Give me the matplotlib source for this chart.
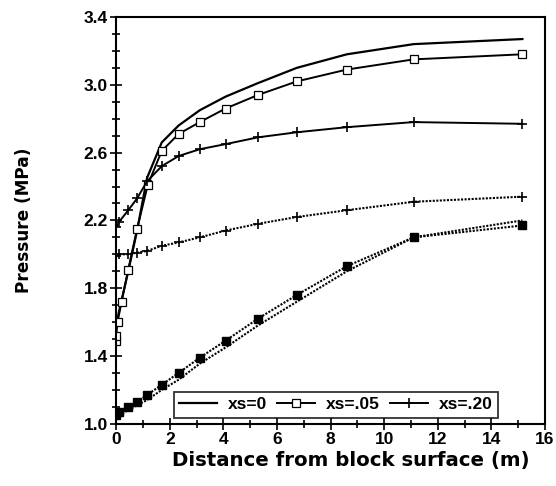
# -*- coding=utf-8 -*-
"""Pressure vs distance from block surface, xs = 0 / .05 / .20"""

import matplotlib
matplotlib.use("Agg")
from matplotlib import pyplot as plt
from matplotlib.ticker import MultipleLocator, FormatStrFormatter
import numpy as np

plt.rcParams['font.family'] = ['Liberation Sans', 'DejaVu Sans']
plt.rcParams['font.weight'] = 'bold'

# distance (m)
dist = [0, 0.1, 0.45, 0.78, 1.15, 1.7, 2.33, 3.12, 4.08, 5.29, 6.74, 8.61, 11.1, 15.16]
dist_sq = [0, 0, 0.05, 0.2, 0.45, 0.78, 1.18, 1.7, 2.33, 3.12, 4.08, 5.29, 6.74, 8.61, 11.1, 15.16]

# upper (solid) curves
p_xs0 = [1.58, 1.66, 1.90, 2.14, 2.45, 2.66, 2.76, 2.85, 2.93, 3.01, 3.10, 3.18, 3.24, 3.27]
p_xs05 = [1.49, 1.52, 1.60, 1.72, 1.91, 2.15, 2.41, 2.61, 2.71, 2.78, 2.86, 2.94, 3.02, 3.09, 3.15, 3.18]
p_xs20 = [2.16, 2.19, 2.26, 2.33, 2.43, 2.52, 2.58, 2.62, 2.65, 2.69, 2.72, 2.75, 2.78, 2.77]

# lower (dotted) curves
d_xs0 = [1.04, 1.05, 1.08, 1.11, 1.14, 1.20, 1.26, 1.355, 1.45, 1.58, 1.72, 1.90, 2.10, 2.20]
d_xs05 = [1.05, 1.07, 1.10, 1.13, 1.17, 1.23, 1.30, 1.39, 1.49, 1.62, 1.76, 1.93, 2.10, 2.17]
d_xs20 = [1.99, 2.0, 2.0, 2.01, 2.02, 2.05, 2.07, 2.10, 2.14, 2.18, 2.22, 2.26, 2.31, 2.34]

labels = ['xs=0', 'xs=.05', 'xs=.20']
yticks = np.arange(1.0, 3.41, 0.4)


def draw():
	fig = plt.figure(figsize=(5.56, 4.86), dpi=100)
	ax = fig.add_axes([0.209, 0.128, 0.771, 0.837])

	dots = (0, (1, 0.7))
	# dotted set first, so the solid ones sit on top
	ax.plot(dist, d_xs0, color='k', lw=1.5, ls=dots)
	ax.plot(dist, d_xs05, color='k', lw=1.5, ls=dots, marker='s', ms=5.5,
			mfc='k', mec='k')
	ax.plot(dist, d_xs20, color='k', lw=1.5, ls=dots, marker='+', ms=7.5, mew=1.2)

	ax.plot(dist, p_xs0, color='k', lw=1.6, label=labels[0])
	ax.plot(dist_sq, p_xs05, color='k', lw=1.4, marker='s', ms=6.3,
			mfc='white', mec='k', mew=0.9, label=labels[1])
	ax.plot(dist, p_xs20, color='k', lw=1.4, marker='+', ms=7.5, mew=1.2,
			label=labels[2])

	ax.set_xlim(0, 16)
	ax.set_ylim(1.0, 3.4)
	ax.xaxis.set_major_locator(MultipleLocator(2))
	ax.xaxis.set_minor_locator(MultipleLocator(1))
	ax.set_yticks(yticks)
	ax.yaxis.set_minor_locator(MultipleLocator(0.1))
	ax.yaxis.set_major_formatter(FormatStrFormatter('%.1f'))
	ax.tick_params(which='major', direction='inout', length=8, width=1.2,
				   labelsize=12.5, pad=2)
	ax.tick_params(which='minor', direction='inout', length=6, width=1.2)
	for s in ax.spines.values():
		s.set_linewidth(1.5)

	ax.set_xlabel('Distance from block surface (m)', fontsize=14.2,
				  fontweight='bold', family='DejaVu Sans')
	ax.set_ylabel('Pressure (MPa)', fontsize=12.2, fontweight='bold',
				  family='DejaVu Sans')
	ax.xaxis.set_label_coords(0.548, -0.068)
	ax.yaxis.set_label_coords(-0.193, 0.5)

	leg = ax.legend(loc='lower right', bbox_to_anchor=(0.89, 0.015), ncol=3,
					frameon=True, fancybox=False, handlelength=2.2,
					columnspacing=0.6, handletextpad=0.6, borderpad=0.3,
					borderaxespad=0, prop={'weight': 'bold', 'size': 12.5})
	leg.get_frame().set_edgecolor('k')
	leg.get_frame().set_linewidth(1.3)

	fig.savefig('out.png', dpi=100)


if __name__ == '__main__':
	draw()
